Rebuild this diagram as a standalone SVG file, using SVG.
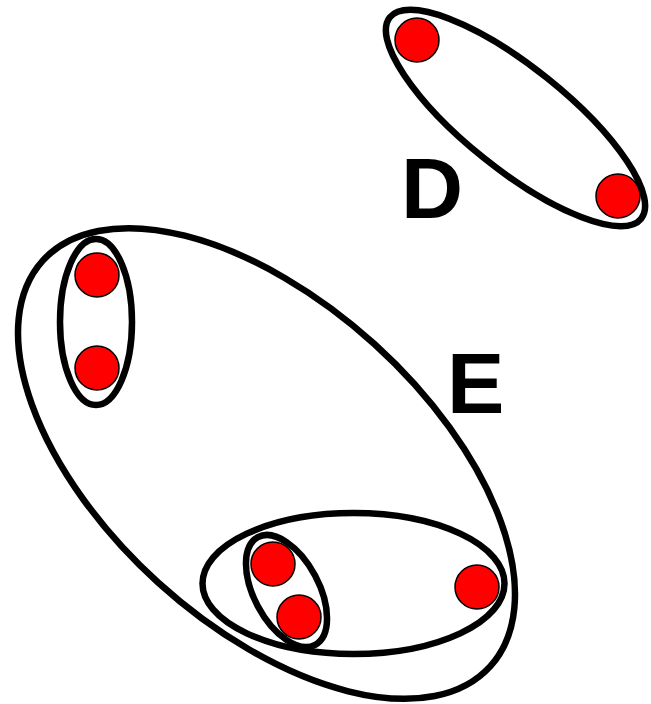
<svg xmlns="http://www.w3.org/2000/svg" width="651" height="704" viewBox="0 0 651 704">
<style>
.set{fill:none;stroke:#000;stroke-width:6.5}
.pt{fill:#ff0000;stroke:#000;stroke-width:1.5}
.lbl{font-family:"Liberation Sans",Arial,sans-serif;font-weight:bold;font-size:86px;fill:#000}
</style>
<rect width="651" height="704" fill="#fff"/>
<g id="setD">
<ellipse class="set" cx="515.5" cy="118" rx="161" ry="51" transform="rotate(38.7 515.5 118)"/>
</g>
<g id="setE">
<ellipse class="set" cx="266.5" cy="463.5" rx="302" ry="161" transform="rotate(42.2 266.5 463.5)"/>
</g>
<g id="setE1">
<ellipse class="set" cx="96" cy="322" rx="36" ry="83"/>
</g>
<g id="setE2">
<ellipse class="set" cx="353.5" cy="583.5" rx="151" ry="70.5"/>
</g>
<g id="setE3">
<ellipse class="set" cx="286.5" cy="591" rx="32.5" ry="61" transform="rotate(-28 286.5 591)"/>
</g>
<g id="points">
<circle class="pt" cx="417" cy="40" r="22"/>
<circle class="pt" cx="618" cy="196" r="22"/>
<circle class="pt" cx="97" cy="275" r="22"/>
<circle class="pt" cx="97" cy="368" r="22"/>
<circle class="pt" cx="273" cy="564" r="22"/>
<circle class="pt" cx="299" cy="617" r="22"/>
<circle class="pt" cx="477" cy="587" r="22"/>
</g>
<g id="labels">
<text class="lbl" x="401" y="218">D</text>
<text class="lbl" x="447" y="413">E</text>
</g>
</svg>
